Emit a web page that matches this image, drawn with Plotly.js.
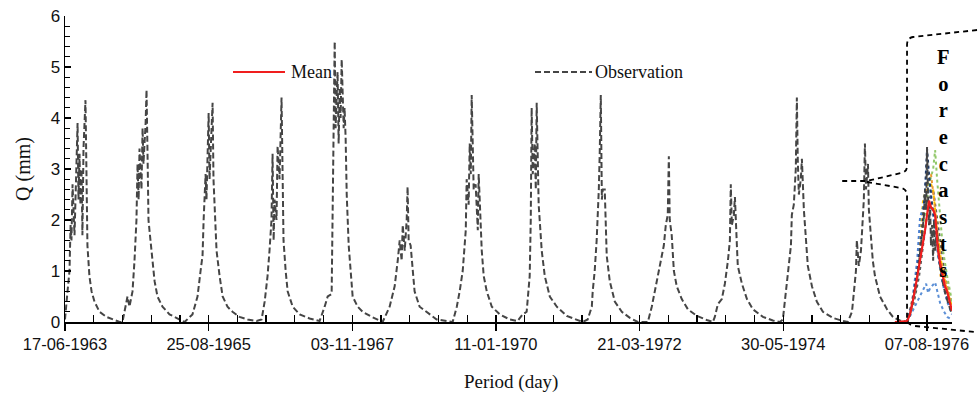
<!DOCTYPE html>
<html>
<head>
<meta charset="utf-8">
<script src="https://cdn.plot.ly/plotly-3.0.1.min.js"></script>
<style>html,body{margin:0;padding:0;background:#fff}#chart{width:978px;height:397px}</style>
</head>
<body>
<div id="chart"></div>
<script>
// Day index counted from 17-06-1963
const tickDays = [0, 800, 1600, 2400, 3200, 4000, 4800];
const tickLabels = ["17-06-1963", "25-08-1965", "03-11-1967", "11-01-1970", "21-03-1972", "30-05-1974", "07-08-1976"];

const obsDay = [
  0,3,14,25,31,36,42,53,59,70,75,81,86,92,97,103,114,120,125,136,148,164,192,231,276,304,
  320,348,359,376,387,398,404,410,415,426,432,437,449,454,460,465,476,488,499,515,543,582,638,666,
  710,738,755,766,772,783,788,800,805,816,822,827,839,844,861,878,905,933,972,1017,1067,
  1095,1112,1128,1139,1150,1156,1162,1167,1178,1184,1195,1206,1212,1217,1229,1240,1268,1307,1362,1418,
  1446,1463,1485,1491,1496,1502,1507,1518,1524,1530,1535,1541,1552,1557,1563,1569,1580,1591,1602,1630,1658,1708,1752,
  1769,1808,1825,1836,1853,1864,1875,1881,1892,1903,1908,1914,1925,1936,1947,1975,2014,2070,2126,
  2159,2182,2198,2215,2226,2232,2237,2248,2254,2260,2265,2271,2276,2287,2299,2304,2315,2321,2332,2349,2377,2421,2477,2521,
  2549,2571,2588,2594,2599,2605,2616,2622,2627,2633,2638,2655,2672,2700,2739,2794,2850,2883,
  2911,2934,2939,2950,2961,2967,2973,2978,2984,2990,2995,3006,3012,3017,3034,3062,3101,3146,3190,
  3246,3268,3285,3301,3324,3335,3346,3357,3363,3368,3379,3391,3407,3435,3469,3519,3574,3608,
  3619,3636,3658,3675,3692,3703,3708,3714,3725,3731,3742,3747,3770,3798,3831,3887,3942,3981,
  3998,4009,4026,4043,4048,4059,4070,4076,4081,4087,4098,4104,4115,4126,4137,4160,4187,4221,4277,4332,
  4360,4383,4394,4405,4410,4421,4433,4444,4449,4455,4461,4472,4477,4488,4499,4511,4539,4578,4611,4650,4678,
  4690,4706,4723,4740,4751,4762,4773,4784,4790,4796,4801,4807,4812,4818,4823,4829,4835,4840,4846,4857,4868,4879,4890,4907,4924,4940
];
const obsQ = [
  0.05,0.2,0.6,1.0,1.9,1.6,2.7,1.7,2.4,3.9,2.4,3.3,2.3,3.0,1.7,3.4,4.35,2.2,1.5,0.9,0.6,0.4,0.2,0.1,0.03,0.0,
  0.0,0.5,0.3,0.6,1.2,2.0,3.1,2.4,3.4,2.6,3.8,3.1,3.9,4.55,3.2,2.0,1.6,1.2,0.8,0.5,0.3,0.15,0.05,0.0,
  0.15,0.5,1.0,1.3,2.0,2.9,2.4,4.1,2.8,3.6,4.3,2.8,2.0,1.4,0.9,0.5,0.3,0.2,0.1,0.05,0.02,
  0.05,0.4,0.9,1.4,2.0,3.3,1.6,2.4,2.0,3.45,2.8,4.4,2.5,1.6,1.0,0.6,0.3,0.15,0.07,0.02,
  0.3,0.5,0.55,2.0,4.0,5.5,3.8,4.9,3.5,4.6,4.0,5.15,3.8,4.2,3.6,2.5,1.5,1.0,0.5,0.3,0.2,0.1,0.03,
  0.0,0.3,0.55,0.7,1.2,1.6,1.2,1.9,1.4,2.0,2.65,1.6,1.5,1.0,0.6,0.3,0.2,0.05,0.02,
  0.0,0.3,0.6,1.0,1.5,1.8,2.8,2.3,3.5,2.9,4.45,3.0,2.6,2.7,1.8,2.9,1.9,1.4,0.9,0.6,0.3,0.15,0.05,0.02,
  0.15,0.2,0.9,2.0,4.2,2.9,3.5,2.6,4.3,3.0,2.3,1.4,0.9,0.5,0.3,0.12,0.04,0.0,
  0.05,0.3,0.6,1.0,1.6,2.0,2.6,3.3,4.45,2.4,2.6,2.6,1.7,1.3,0.8,0.4,0.2,0.08,0.0,
  0.0,0.3,0.6,0.9,1.3,1.5,1.9,2.1,3.25,2.0,1.7,1.0,0.7,0.45,0.25,0.12,0.04,0.0,
  0.1,0.35,0.45,0.75,1.2,1.6,2.7,1.9,2.1,2.45,1.5,1.1,0.75,0.45,0.25,0.1,0.03,0.0,
  0.05,0.4,0.9,1.5,2.1,2.3,3.0,4.4,3.2,2.5,2.8,3.2,2.2,1.6,1.1,0.7,0.4,0.2,0.08,0.02,
  0.0,0.2,0.6,1.0,1.6,1.1,1.4,2.1,2.4,3.5,2.6,3.1,2.2,1.7,1.2,0.9,0.5,0.25,0.1,0.03,0.0,
  0.0,0.15,0.4,0.7,1.0,1.3,1.7,2.1,2.6,2.2,3.43,2.4,1.9,2.3,1.5,1.9,1.2,2.0,1.4,1.8,1.2,1.0,0.75,0.5,0.3,0.15
];

// Ensemble mean forecast
const meanDay = [4622,4690,4706,4723,4746,4762,4773,4790,4801,4812,4823,4835,4846,4857,4862,4874,4885,4901,4913,4929,4940];
const meanQ = [0.0,0.02,0.15,0.43,0.88,1.2,1.41,1.8,2.1,2.38,2.25,2.2,2.1,1.6,1.41,1.15,0.95,0.7,0.6,0.35,0.22];

// Ensemble members
const ensGreenDay = [4690,4718,4751,4784,4812,4835,4846,4857,4874,4890,4913,4940];
const ensGreenQ = [0,0.3,1.0,1.9,2.7,3.0,3.37,2.8,2.0,1.4,0.9,0.4];
const ensNavyDay = [4690,4718,4751,4773,4790,4801,4812,4829,4846,4862,4885,4913,4940];
const ensNavyQ = [0,0.35,1.1,1.8,2.6,3.4,2.9,2.3,1.9,1.4,0.9,0.5,0.25];
const ensYellowDay = [4690,4723,4751,4779,4812,4835,4857,4879,4907,4940];
const ensYellowQ = [0,0.45,1.2,2.4,2.8,2.6,1.8,1.2,0.7,0.3];
const ensOrangeDay = [4690,4729,4762,4796,4823,4840,4862,4890,4940];
const ensOrangeQ = [0,0.6,1.5,2.5,2.9,2.4,1.6,1.0,0.35];
const ensBlueDay = [4690,4718,4746,4762,4784,4801,4818,4840,4862,4885,4913,4940];
const ensBlueQ = [0,0.4,1.2,2.05,2.3,3.1,2.6,2.0,1.3,0.8,0.4,0.15];
const ensLowDay = [4690,4723,4751,4779,4796,4807,4818,4846,4862,4874,4896,4913,4940];
const ensLowQ = [0,0.24,0.45,0.63,0.75,0.57,0.66,0.78,0.55,0.37,0.2,0.1,0.05];
const ensGrayDay = [4690,4723,4757,4784,4812,4835,4857,4879,4901,4924,4940];
const ensGrayQ = [0,0.3,0.9,1.6,2.4,2.6,2.0,1.4,0.9,0.55,0.35];

const members = [
  [ensGrayDay, ensGrayQ, '#595959'],
  [ensLowDay, ensLowQ, '#5b8fd6'],
  [ensYellowDay, ensYellowQ, '#ffc000'],
  [ensOrangeDay, ensOrangeQ, '#ed9a31'],
  [ensBlueDay, ensBlueQ, '#4a7fd0'],
  [ensGreenDay, ensGreenQ, '#92c86a'],
  [ensNavyDay, ensNavyQ, '#1f3864']
];

const traces = members.map(m => ({
  x: m[0], y: m[1], type: 'scatter', mode: 'lines', showlegend: false, hoverinfo: 'skip',
  line: {color: m[2], width: 2, dash: 'dot'}
}));
traces.push({
  x: obsDay, y: obsQ, type: 'scatter', mode: 'lines', name: 'Observation', showlegend: false,
  line: {color: '#454545', width: 2, dash: '6px,3px'}
});
traces.push({
  x: meanDay, y: meanQ, type: 'scatter', mode: 'lines', name: 'Mean', showlegend: false,
  line: {color: '#f01e1e', width: 2.2}
});
// invisible trace to activate the overlay axis carrying the inner (minor + major) x ticks
traces.push({x: [0], y: [0], xaxis: 'x2', type: 'scatter', mode: 'lines', showlegend: false, hoverinfo: 'skip', line: {width: 0}});

// geometry helpers (paper coordinates)
const L = 65, R = 952, T = 16, B = 322;
const px = X => (X - L) / (R - L);
const py = Y => (B - Y) / (B - T);
const f = v => v.toFixed(4);

const brA = 'M' + f(px(977)) + ',' + f(py(30)) + ' L' + f(px(913)) + ',' + f(py(37)) +
  ' Q' + f(px(907)) + ',' + f(py(38)) + ' ' + f(px(907)) + ',' + f(py(45)) +
  ' L' + f(px(907)) + ',' + f(py(166)) +
  ' Q' + f(px(907)) + ',' + f(py(172)) + ' ' + f(px(901)) + ',' + f(py(173)) +
  ' L' + f(px(867)) + ',' + f(py(181)) + ' L' + f(px(841)) + ',' + f(py(181));
const brB = 'M' + f(px(867)) + ',' + f(py(182)) + ' L' + f(px(901)) + ',' + f(py(188)) +
  ' Q' + f(px(907)) + ',' + f(py(189)) + ' ' + f(px(907)) + ',' + f(py(196)) +
  ' L' + f(px(907)) + ',' + f(py(320)) +
  ' Q' + f(px(908)) + ',' + f(py(325)) + ' ' + f(px(915)) + ',' + f(py(326)) +
  ' L' + f(px(975)) + ',' + f(py(332));

const serif = 'Liberation Serif, Times New Roman, serif';
const sans = 'Liberation Sans, Arial, sans-serif';

const layout = {
  width: 978, height: 397,
  margin: {l: L, r: 978 - R, t: T, b: 397 - B},
  paper_bgcolor: '#fff', plot_bgcolor: '#fff',
  showlegend: false,
  xaxis: {
    range: [0, 4940], tickmode: 'array', tickvals: tickDays, ticktext: tickLabels,
    ticks: 'outside', ticklen: 7, tickwidth: 1.3, tickcolor: '#000',
    showline: true, linecolor: '#000', linewidth: 1.5, showgrid: false, zeroline: false,
    tickfont: {family: sans, size: 16.5, color: '#111'},
    automargin: false
  },
  xaxis2: {
    overlaying: 'x', matches: 'x', range: [0, 4940], tickmode: 'linear', tick0: 0, dtick: 160,
    ticks: 'inside', ticklen: 7, tickwidth: 1.3, tickcolor: '#000', side: 'bottom',
    showticklabels: false, showline: false, showgrid: false, zeroline: false, automargin: false
  },
  yaxis: {
    range: [0, 6], dtick: 1, ticks: 'inside', ticklen: 6, tickwidth: 1.3, tickcolor: '#000',
    showline: true, linecolor: '#000', linewidth: 1.5, showgrid: false, zeroline: false,
    tickfont: {family: sans, size: 17, color: '#111'},
    minor: {dtick: 0.2, ticks: 'inside', ticklen: 5, tickwidth: 1.1, tickcolor: '#000', showgrid: false},
    title: {text: 'Q (mm)', font: {family: serif, size: 20, color: '#111'}, standoff: 14},
    automargin: false
  },
  shapes: [
    {type: 'path', xref: 'paper', yref: 'paper', path: brA, line: {color: '#000', width: 1.8, dash: '5px,4px'}},
    {type: 'path', xref: 'paper', yref: 'paper', path: brB, line: {color: '#000', width: 1.8, dash: '5px,4px'}},
    {type: 'line', xref: 'paper', yref: 'paper', x0: px(233), x1: px(285), y0: py(72), y1: py(72), line: {color: '#f01e1e', width: 2}},
    {type: 'line', xref: 'paper', yref: 'paper', x0: px(535), x1: px(592), y0: py(72), y1: py(72), line: {color: '#454545', width: 2, dash: '6px,3px'}}
  ],
  annotations: [
    {xref: 'paper', yref: 'paper', x: px(511), y: py(382), xanchor: 'center', yanchor: 'middle', showarrow: false,
     text: 'Period (day)', font: {family: serif, size: 19, color: '#111'}},
    {xref: 'paper', yref: 'paper', x: px(289), y: py(72), xanchor: 'left', yanchor: 'middle', showarrow: false,
     text: 'Mean', font: {family: serif, size: 18, color: '#111'}},
    {xref: 'paper', yref: 'paper', x: px(593), y: py(72), xanchor: 'left', yanchor: 'middle', showarrow: false,
     text: 'Observation', font: {family: serif, size: 18, color: '#111'}},
    {xref: 'paper', yref: 'paper', x: px(943), y: py(163), xanchor: 'center', yanchor: 'middle', showarrow: false,
     text: ['F','o','r','e','c','a','s','t','s'].map(c => '<b>' + c + '</b>').join('<br>'),
     font: {family: serif, size: 20.5, color: '#000'}}
  ]
};

Plotly.newPlot('chart', traces, layout, {displayModeBar: false, staticPlot: true});
</script>
</body>
</html>
